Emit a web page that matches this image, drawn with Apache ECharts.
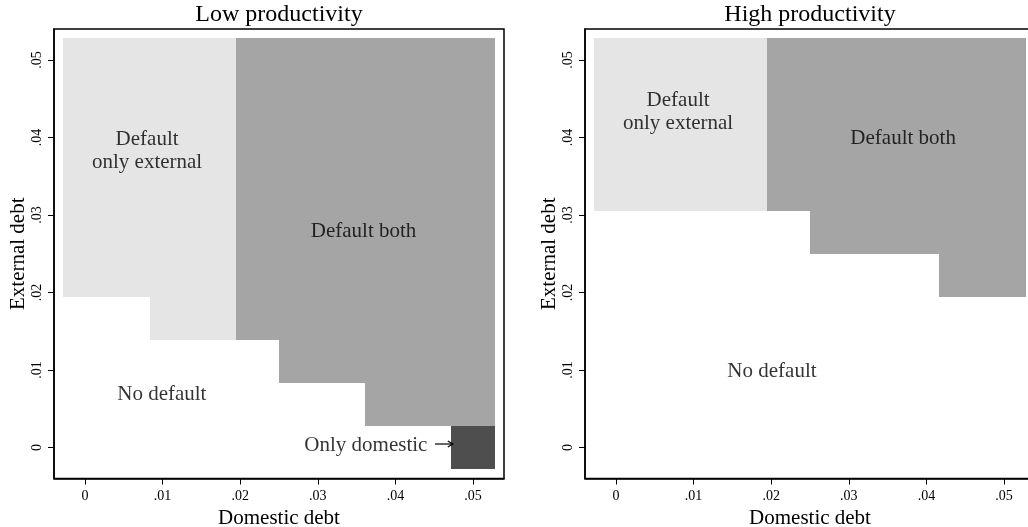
<!DOCTYPE html>
<html>
<head>
<meta charset="utf-8">
<script src="https://cdn.jsdelivr.net/npm/echarts@6/dist/echarts.min.js"></script>
<style>
  html, body { margin: 0; padding: 0; background: #fff; }
  #chart { width: 1028px; height: 527px; }
</style>
</head>
<body>
<div id="chart"></div>
<script>
// Debt grid used by the model (same grid on both axes)
const domesticDebt = [0, 0.00556, 0.01111, 0.01667, 0.02222, 0.02778, 0.03333, 0.03889, 0.04444, 0.05];
const externalDebt = [0, 0.00556, 0.01111, 0.01667, 0.02222, 0.02778, 0.03333, 0.03889, 0.04444, 0.05];

const tickValues = [0, 0.01, 0.02, 0.03, 0.04, 0.05];
const tickLabels = ['0', '.01', '.02', '.03', '.04', '.05'];
const panelTitles = ['Low productivity', 'High productivity'];

// For each domestic-debt column: index of the first external-debt level with default
const lowDefaultFrom = [4, 4, 3, 3, 3, 2, 2, 1, 1, 1];
const highDefaultFrom = [6, 6, 6, 6, 6, 5, 5, 5, 4, 4];

// First domestic-debt column where default is on both debts
const lowBothFrom = 4;
const highBothFrom = 4;

// [column, row] cells where only domestic debt is defaulted on
const lowOnlyDomestic = [[9, 0]];
const highOnlyDomestic = [];

// Region annotations, placed in debt coordinates
const lowLabels = [
  { name: 'Default\nonly external', value: [0.0080, 0.0383] },
  { name: 'Default both', value: [0.0359, 0.0279] },
  { name: 'No default', value: [0.0099, 0.0069] },
  { name: 'Only domestic', value: [0.0362, 0.0003] }
];
const highLabels = [
  { name: 'Default\nonly external', value: [0.0080, 0.0433] },
  { name: 'Default both', value: [0.0370, 0.0399] },
  { name: 'No default', value: [0.0201, 0.0098] }
];
// Pointer from the "Only domestic" note to its cell: [fromX, toX, y]
const lowArrows = [[0.0451, 0.0474, 0.00045]];

const FONT = '"Liberation Serif", "Times New Roman", "DejaVu Serif", serif';
const COLORS = { external: '#e5e5e5', both: '#a5a5a5', domestic: '#4e4e4e' };
const HALF_CELL = 0.00278;

// Turn the per-column thresholds into column blocks [domestic, externalFrom, externalTo]
function buildRegions(defaultFrom, bothFrom, onlyDomestic) {
  const top = externalDebt[externalDebt.length - 1];
  const external = [], both = [], domestic = [];
  defaultFrom.forEach(function (row, col) {
    const block = [domesticDebt[col], externalDebt[row], top];
    (col >= bothFrom ? both : external).push(block);
  });
  onlyDomestic.forEach(function (cell) {
    domestic.push([domesticDebt[cell[0]], externalDebt[cell[1]], externalDebt[cell[1]]]);
  });
  return { external: external, both: both, domestic: domestic };
}

function renderBlock(params, api) {
  const x = api.value(0), y0 = api.value(1), y1 = api.value(2);
  const a = api.coord([x - HALF_CELL, y1 + HALF_CELL]);
  const b = api.coord([x + HALF_CELL, y0 - HALF_CELL]);
  const left = Math.round(a[0]), right = Math.round(b[0]);
  const topPx = Math.round(a[1]), bottom = Math.round(b[1]);
  return {
    type: 'rect',
    shape: { x: left, y: topPx, width: right - left, height: bottom - topPx },
    style: { fill: api.visual('color') }
  };
}

function regionSeries(regions, idx) {
  return ['external', 'both', 'domestic'].map(function (key) {
    return {
      type: 'custom',
      name: key,
      xAxisIndex: idx,
      yAxisIndex: idx,
      renderItem: renderBlock,
      itemStyle: { color: COLORS[key] },
      encode: { x: 0, y: [1, 2] },
      data: regions[key],
      silent: true,
      z: 1
    };
  });
}

function renderArrow(params, api) {
  const p0 = api.coord([api.value(0), api.value(2)]);
  const p1 = api.coord([api.value(1), api.value(2)]);
  const stroke = { stroke: '#000', lineWidth: 1.2, fill: null };
  return {
    type: 'group',
    children: [
      { type: 'line', shape: { x1: p0[0], y1: p0[1], x2: p1[0], y2: p1[1] }, style: stroke },
      {
        type: 'polyline',
        shape: { points: [[p1[0] - 5, p1[1] - 3], [p1[0], p1[1]], [p1[0] - 5, p1[1] + 3]] },
        style: stroke
      }
    ]
  };
}

function labelSeries(labels, idx) {
  return {
    type: 'scatter',
    xAxisIndex: idx,
    yAxisIndex: idx,
    symbolSize: 1,
    itemStyle: { color: 'transparent' },
    silent: true,
    z: 5,
    label: {
      show: true,
      position: 'inside',
      formatter: '{b}',
      color: '#000',
      fontFamily: FONT,
      fontSize: 21,
      lineHeight: 23
    },
    data: labels
  };
}

const panelLeft = [54, 585];

function makeAxis(dim, idx) {
  const isX = dim === 'x';
  return {
    type: 'value',
    gridIndex: idx,
    min: -0.004,
    max: 0.054,
    name: isX ? 'Domestic debt' : 'External debt',
    nameLocation: 'middle',
    nameGap: isX ? 21 : 25,
    nameTextStyle: { fontFamily: FONT, fontSize: 21, color: '#000' },
    splitLine: { show: false },
    axisLine: { show: true, onZero: false, lineStyle: { color: '#000', width: 1.5 } },
    axisTick: {
      show: true, length: 6, inside: false,
      customValues: tickValues,
      lineStyle: { color: '#000', width: 1 }
    },
    axisLabel: {
      show: true,
      customValues: tickValues,
      rotate: isX ? 0 : 90,
      margin: isX ? 11 : 10,
      fontFamily: FONT,
      fontSize: 14,
      color: '#000',
      formatter: function (v) {
        const i = tickValues.findIndex(function (t) { return Math.abs(t - v) < 1e-9; });
        return i >= 0 ? tickLabels[i] : '';
      }
    }
  };
}

const lowRegions = buildRegions(lowDefaultFrom, lowBothFrom, lowOnlyDomestic);
const highRegions = buildRegions(highDefaultFrom, highBothFrom, highOnlyDomestic);

const chart = echarts.init(document.getElementById('chart'), null, { renderer: 'canvas' });
chart.setOption({
  animation: false,
  backgroundColor: '#fff',
  title: panelTitles.map(function (t, i) {
    return {
      text: t,
      left: panelLeft[i] + 225,
      top: 1,
      textAlign: 'center',
      padding: 0,
      textStyle: { fontFamily: FONT, fontSize: 24, fontWeight: 'normal', color: '#000', lineHeight: 27 }
    };
  }),
  grid: panelLeft.map(function (l) {
    return {
      left: l, top: 29, width: 450, height: 449.5,
      show: true, borderColor: '#000', borderWidth: 1.5, backgroundColor: '#fff',
      containLabel: false,
      outerBoundsMode: 'none'
    };
  }),
  xAxis: [makeAxis('x', 0), makeAxis('x', 1)],
  yAxis: [makeAxis('y', 0), makeAxis('y', 1)],
  series: regionSeries(lowRegions, 0)
    .concat(regionSeries(highRegions, 1))
    .concat([
      {
        type: 'custom',
        xAxisIndex: 0,
        yAxisIndex: 0,
        renderItem: renderArrow,
        encode: { x: [0, 1], y: 2 },
        data: lowArrows,
        silent: true,
        z: 5
      },
      labelSeries(lowLabels, 0),
      labelSeries(highLabels, 1)
    ])
});
</script>
</body>
</html>
